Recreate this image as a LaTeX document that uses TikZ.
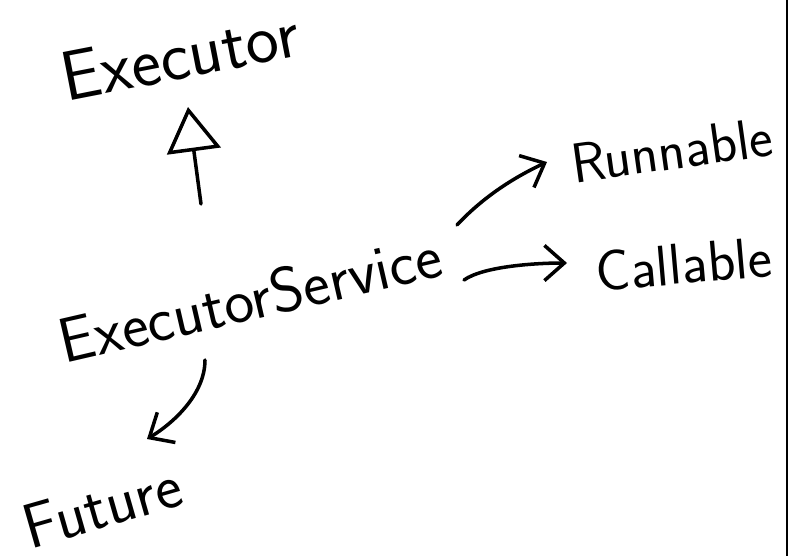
\documentclass[tikz,border=0pt]{standalone}
\usepackage{tikz}
\usetikzlibrary{arrows.meta}

\tikzset{
  ink/.style={line width=3pt, line cap=round, line join=round},
  word/.style={inner sep=0pt, font=\sffamily\fontsize{#1}{#1}\selectfont},
  barb/.style={ink, -{Straight Barb[length=17pt,width=30pt]}},
  hollow/.style={ink, -{Triangle[open,length=38pt,width=46pt]}}
}

\begin{document}
\begin{tikzpicture}[x=0.03cm, y=-0.03cm]
                \useasboundingbox (0,0) rectangle (788,556);

                % Class names
                \node[word=60, rotate=11] (exec) at (180,55) {Executor};
                \node[word=54, rotate=13] (service) at (250,298) {ExecutorService};
                \node[word=48, rotate=8] (runnable) at (672,150) {Runnable};
                \node[word=49, rotate=5] (callable) at (684,264) {Callable};
                \node[word=54, rotate=16] (future) at (102,506) {Future};

                % ExecutorService extends Executor
                \draw[hollow] ([shift={(-49,-94)}]service.center) -- ([shift={(8,52)}]exec.center);

                % uses Runnable and Callable
                \draw[barb] ([shift={(207,-73)}]service.center)
                    .. controls +(28,-30) and +(-30,14) .. ([shift={(-125,12)}]runnable.center);
                \draw[barb] ([shift={(214,-18)}]service.center)
                    .. controls +(20,-14) and +(-30,0) .. ([shift={(-117,-1)}]callable.center);

                % returns Future
                \draw[barb] ([shift={(-45,62)}]service.center)
                    .. controls +(0,35) and +(25,-15) .. ([shift={(45,-67)}]future.center);

                % edge of the sheet
                \draw[line width=1.7pt] (786.5,0) -- (786.5,556);
\end{tikzpicture}
\end{document}
